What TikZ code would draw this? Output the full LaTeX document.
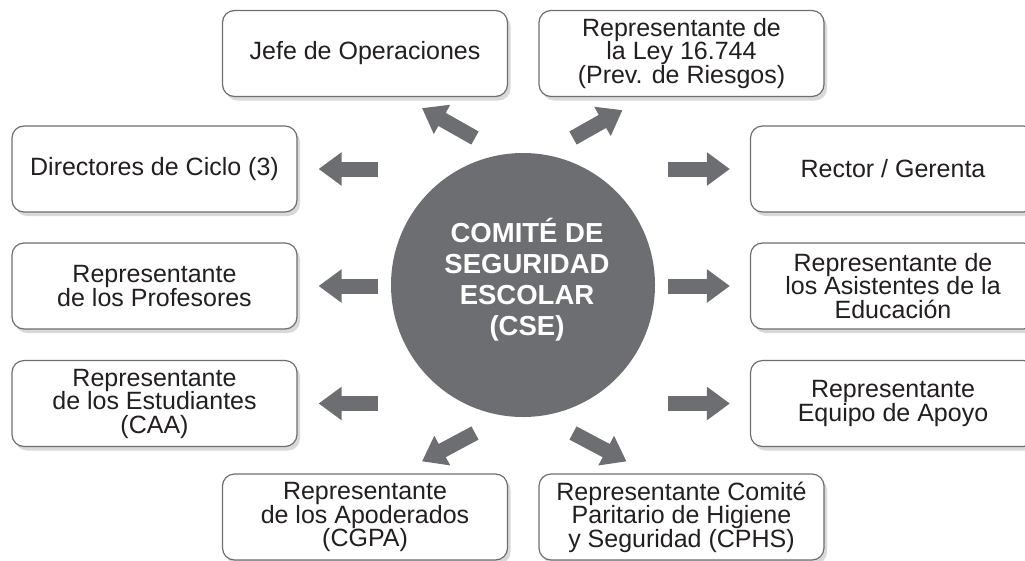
\documentclass[tikz,border=0pt]{standalone}
\usepackage{fontspec}
\setmainfont{Liberation Sans}
\usetikzlibrary{arrows.meta,shadows}
\definecolor{gris}{HTML}{6D6E71}
\definecolor{texto}{HTML}{231F20}
\begin{document}
\begin{tikzpicture}[
			x=1pt, y=-1pt,
			caja/.style={draw=gris, line width=1.2pt, fill=white, rounded corners=12pt,
					minimum width=285pt, minimum height=86pt, align=center, text=texto,
					font=\fontsize{25}{23.5}\selectfont,
					drop shadow={shadow xshift=3pt, shadow yshift=-4pt, opacity=.25, fill=black!60}},
			comite/.style={circle, fill=gris, minimum size=264pt, inner sep=0pt},
			leyenda/.style={align=center, text=white, font=\bfseries\fontsize{27.5}{31}\selectfont},
			flecha/.style={draw=gris, line width=15pt, -{Triangle[length=23pt,width=32pt]}}
		]
		\useasboundingbox (0,0) rectangle (1025,560);
		\node[comite] (cse) at (523,285) {};
		\node[leyenda] (cse-txt) at ([shift={(4,-5)}]cse.center) {COMITÉ DE\\SEGURIDAD\\ESCOLAR\\(CSE)};
		\node[caja] (jefe) at (365,53.5) {Jefe de Operaciones};
		\node[caja] (ley) at (681.5,53.5) {Representante de\\la Ley 16.744\\(Prev. de Riesgos)};
		\node[caja] (directores) at (154.5,169) {Directores de Ciclo (3)};
		\node[caja] (profesores) at (154.5,286) {Representante\\de los Profesores};
		\node[caja] (estudiantes) at (154.5,403.5) {Representante\\de los Estudiantes\\(CAA)};
		\node[caja] (rector) at (893,169) {Rector / Gerenta};
		\node[caja] (asistentes) at (893,286) {Representante de\\los Asistentes de la\\Educación};
		\node[caja] (equipo) at (893,403.5) {Representante\\Equipo de Apoyo};
		\node[caja] (apoderados) at (365,517) {Representante\\de los Apoderados\\(CGPA)};
		\node[caja] (cphs) at (681.5,517) {Representante Comité\\Paritario de Higiene\\y Seguridad (CPHS)};
		\draw[flecha, shorten <=13pt, shorten >=21pt] (cse.west |- directores.east) -- (directores.east);
		\draw[flecha, shorten <=13pt, shorten >=21pt] (cse.west |- profesores.east) -- (profesores.east);
		\draw[flecha, shorten <=13pt, shorten >=21pt] (cse.west |- estudiantes.east) -- (estudiantes.east);
		\draw[flecha, shorten <=13pt, shorten >=20pt] (cse.east |- rector.west) -- (rector.west);
		\draw[flecha, shorten <=13pt, shorten >=20pt] (cse.east |- asistentes.west) -- (asistentes.west);
		\draw[flecha, shorten <=13pt, shorten >=20pt] (cse.east |- equipo.west) -- (equipo.west);
		\draw[flecha] ([shift={(-48,-147)}]cse.center) -- ([shift={(57,11)}]jefe.south);
		\draw[flecha] ([shift={(50,-147)}]cse.center) -- ([shift={(-59,13)}]ley.south);
		\draw[flecha] ([shift={(-48,148)}]cse.center) -- ([shift={(57,-12)}]apoderados.north);
		\draw[flecha] ([shift={(50,148)}]cse.center) -- ([shift={(-55,-12)}]cphs.north);
	\end{tikzpicture}
\end{document}
